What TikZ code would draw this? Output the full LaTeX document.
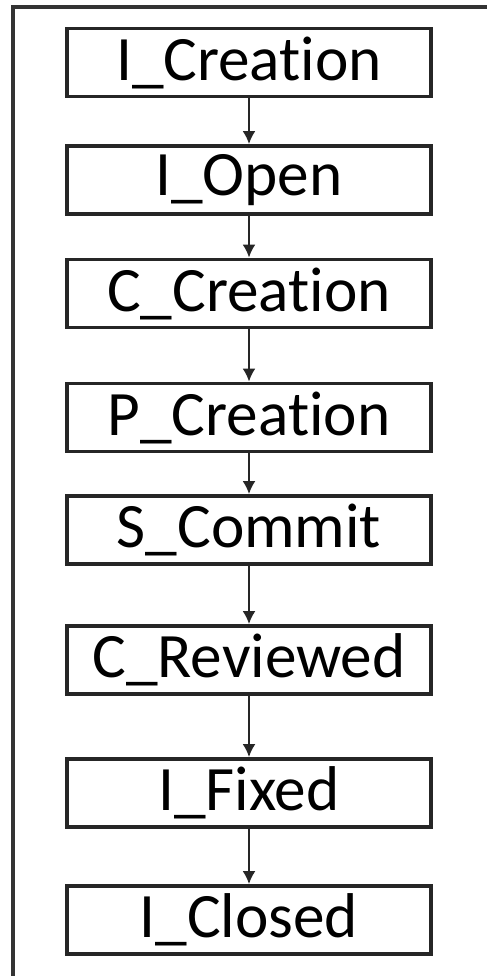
\documentclass[tikz,border=0pt]{standalone}
\usepackage{fontspec}
\setmainfont{Carlito}[Ligatures={NoCommon}]
\usepackage{tikz}
\usetikzlibrary{arrows, arrows.meta, positioning}

\begin{document}
\begin{tikzpicture}[x=0.02cm, y=-0.02cm, stage/.style={draw=black!85, line width=2.1pt, inner sep=0pt, minimum width=7.28cm, minimum height=1.36cm, font=\fontsize{36}{40}\selectfont}]
        \useasboundingbox (0,0) rectangle (487,976);
        \draw[line width=2.3pt, draw=black!80] (13,976) -- (13,7) -- (487,7);

        \node[stage] (ic) at (249,62.5) {I\_Creation};
        \node[stage] (io) at (249,180) {I\_Open};
        \node[stage] (cc) at (249,293.5) {C\_Creation};
        \node[stage] (pc) at (249,417.5) {P\_Creation};
        \node[stage] (sc) at (249,530) {S\_Commit};
        \node[stage] (cr) at (249,660) {C\_Reviewed};
        \node[stage] (fx) at (249,793) {I\_Fixed};
        \node[stage] (cl) at (249,920) {I\_Closed};

        \foreach \from/\to in
        {ic/io,io/cc,cc/pc,pc/sc,sc/cr,cr/fx,fx/cl} \draw [-{Latex[length=2.6mm,width=2.6mm]}, line width=1.4pt, draw=black!85] (\from)--(\to);
        \end{tikzpicture}
\end{document}
